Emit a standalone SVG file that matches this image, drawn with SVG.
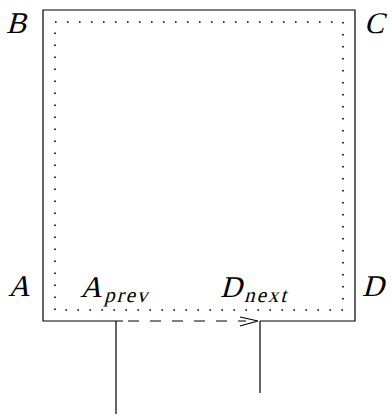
<svg xmlns="http://www.w3.org/2000/svg" width="392" height="416" viewBox="0 0 392 416">
  <style>
    .solid { fill: none; stroke: #000; stroke-width: 1.2; }
    .dots { fill: none; stroke: #000; stroke-width: 1.6; stroke-dasharray: 1.6 10.4; }
    .dash { fill: none; stroke: #000; stroke-width: 1.2; stroke-dasharray: 11 11; }
    .lbl { font-family: "Liberation Serif", "DejaVu Serif", serif; font-size: 30px; fill: #000; }
    .sub { font-family: "Liberation Serif", "DejaVu Serif", serif; font-size: 21px; letter-spacing: 2px; fill: #000; }
  </style>
  <rect width="392" height="416" fill="#fff"/>

  <!-- outer boundary: left, top, right sides and the two solid pieces of the bottom edge -->
  <g id="boundary">
    <path class="solid" d="M123,321 H43 V10 H355 V321 H260"/>
  </g>

  <!-- inner dotted contour -->
  <g id="inner">
    <rect class="dots" x="55" y="22" width="288" height="288"/>
  </g>

  <g id="connectors">
    <line class="dash" x1="128" y1="321" x2="246" y2="321"/>
    <path class="solid" d="M240,317 L258,321 L240,326"/>
    <line class="solid" x1="116" y1="321" x2="116" y2="414"/>
    <line class="solid" x1="260" y1="321" x2="260" y2="393"/>
  </g>

  <!-- math-italic letters: upright serif slanted about the baseline -->
  <g id="labels">
    <text class="lbl" transform="translate(6,33) skewX(-15)">B</text>
    <text class="lbl" transform="translate(364,33) skewX(-15)">C</text>
    <text class="lbl" transform="translate(8,296) skewX(-15)">A</text>
    <text class="lbl" transform="translate(362,296) skewX(-15)">D</text>
    <g id="a-prev">
      <text class="lbl" transform="translate(80,297) skewX(-15)">A</text>
      <text class="sub" transform="translate(104,302) skewX(-15)">prev</text>
    </g>
    <g id="d-next">
      <text class="lbl" transform="translate(220,297) skewX(-15)">D</text>
      <text class="sub" transform="translate(244,302) skewX(-15)">next</text>
    </g>
  </g>
</svg>
